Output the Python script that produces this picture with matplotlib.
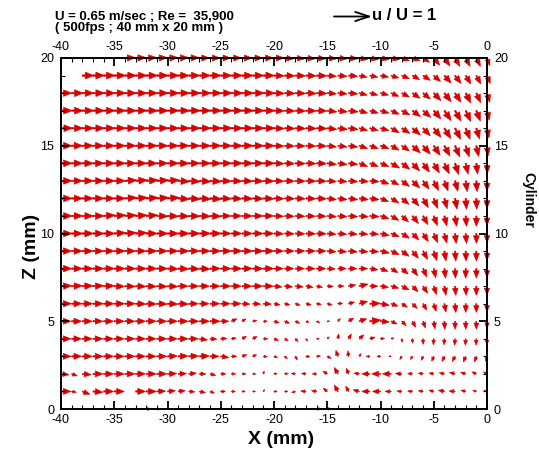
import matplotlib.pyplot as plt
import numpy as np

plt.rcParams['font.family'] = ['Liberation Sans', 'DejaVu Sans']
plt.rcParams['axes.unicode_minus'] = False

# -------------------------------
# PIV velocity field, u/U and w/U on a 1 mm grid
# columns x = -40 .. 0 mm, rows z = 0 .. 20 mm
# -------------------------------

x_mm = np.arange(-40, 1)
z_mm = np.arange(0, 21)

u_rows = [
    # z = 0
    [0, 0, 0, 0, 0, 0, 0, 0, .12, .10, 0, 0, 0, 0, 0, 0, 0, 0, 0, 0,
     0, 0, 0, 0, .12, .10, .08, .07, 0, 0, 0, 0, 0, 0, 0, 0, 0, 0, 0, 0, 0],
    # z = 1
    [.25, .12, .19, .25, .25, .25, 0, .25, .25, .22, .20, .18, .15, .15, .11, .12, .10, .08, .07, .03,
     .08, .08, -.09, -.13, -.13, -.10, -.09, -.07, -.15, -.20, -.20, -.15, -.12, -.12, -.12, -.12, -.15, -.15, -.12, -.09, -.08],
    # z = 2
    [.20, .14, .22, .25, .25, .25, .25, .25, .25, .25, .23, .21, .19, .16, .14, .13, .11, .10, .08, .02,
     .08, .09, -.10, -.11, -.11, -.11, -.09, -.06, -.13, -.20, -.22, -.22, -.16, -.12, -.12, -.12, -.13, -.14, -.13, -.11, -.09],
    # z = 3
    [.25, .25, .25, .25, .25, .25, .25, .25, .25, .25, .25, .25, .25, .25, .22, .20, .13, .12, .10, .10,
     .09, .07, .05, .10, .10, .10, -.05, -.02, .05, -.09, -.09, -.06, -.05, -.05, -.05, -.05, -.06, -.07, -.06, -.05, -.04],
    # z = 4
    [.25, .25, .25, .25, .25, .25, .25, .25, .25, .25, .25, .25, .24, .20, .17, .15, .12, .11, .11, .11,
     .11, .09, .07, .04, .07, .05, .02, .07, .12, .13, .10, .07, .01, 0, 0, -.01, -.01, -.01, -.01, -.01, 0],
    # z = 5
    [.25, .25, .25, .25, .25, .25, .25, .25, .25, .25, .25, .25, .25, .25, .25, .20, .14, .10, .10, .10,
     .13, .12, .11, .08, .08, .06, .06, .13, .19, .28, .22, .15, .11, .08, .06, .03, .01, 0, 0, 0, 0],
    # z = 6
    [.26, .26, .26, .26, .26, .26, .26, .26, .26, .26, .26, .26, .24, .24, .24, .24, .24, .20, .20, .20,
     .15, .13, .12, .13, .12, .12, .12, .15, .21, .26, .22, .17, .14, .12, .09, .06, .04, .02, 0, 0, 0],
    # z = 7
    [.27, .27, .27, .27, .27, .26, .26, .26, .26, .26, .26, .25, .25, .25, .25, .25, .25, .25, .25, .25,
     .20, .20, .20, .18, .15, .15, .15, .18, .22, .20, .20, .19, .18, .14, .11, .07, .04, .02, .01, 0, 0],
    # z = 8
    [.27, .27, .27, .27, .27, .27, .27, .27, .27, .27, .27, .27, .27, .27, .26, .26, .26, .26, .26, .26,
     .23, .23, .23, .23, .23, .20, .21, .21, .21, .20, .19, .17, .16, .13, .09, .05, .03, .01, 0, 0, 0],
    # z = 9
    [.27, .27, .27, .27, .27, .27, .27, .27, .27, .27, .27, .27, .27, .27, .27, .27, .27, .27, .27, .27,
     .24, .24, .24, .24, .24, .22, .22, .22, .22, .22, .22, .20, .18, .15, .11, .08, .04, .02, .01, 0, 0],
    # z = 10
    [.28, .28, .28, .28, .28, .29, .29, .29, .28, .28, .28, .28, .28, .28, .28, .26, .26, .26, .26, .26,
     .24, .24, .24, .24, .24, .22, .22, .22, .22, .22, .22, .20, .19, .16, .13, .10, .06, .03, .02, 0, 0],
    # z = 11
    [.28, .28, .28, .28, .29, .29, .29, .29, .29, .28, .28, .28, .28, .28, .28, .26, .26, .26, .26, .26,
     .24, .24, .24, .24, .24, .23, .23, .23, .23, .23, .21, .19, .17, .15, .12, .09, .06, .04, .02, 0, 0],
    # z = 12
    [.28, .28, .28, .28, .28, .28, .30, .30, .30, .30, .30, .29, .29, .29, .29, .27, .27, .27, .27, .27,
     .25, .25, .25, .25, .25, .23, .23, .23, .23, .23, .20, .19, .18, .16, .13, .10, .07, .05, .02, .01, 0],
    # z = 13
    [.28, .28, .28, .28, .28, .28, .30, .30, .30, .30, .30, .29, .29, .29, .29, .27, .27, .27, .27, .27,
     .25, .25, .25, .25, .25, .23, .23, .23, .23, .23, .21, .19, .19, .18, .15, .12, .09, .07, .04, .02, 0],
    # z = 14
    [.28, .28, .28, .28, .28, .28, .28, .28, .28, .28, .28, .28, .28, .28, .28, .28, .28, .28, .28, .28,
     .25, .25, .25, .25, .25, .23, .23, .23, .21, .21, .21, .21, .20, .18, .16, .14, .12, .09, .06, .03, .01],
    # z = 15
    [.28, .28, .28, .28, .28, .28, .28, .28, .28, .28, .28, .28, .28, .28, .28, .28, .28, .28, .28, .28,
     .25, .25, .25, .25, .25, .23, .23, .23, .21, .21, .21, .20, .19, .20, .18, .16, .14, .12, .09, .06, .03],
    # z = 16
    [.29, .29, .29, .29, .29, .29, .29, .29, .29, .29, .29, .29, .29, .29, .29, .29, .29, .29, .29, .29,
     .26, .26, .26, .26, .26, .24, .24, .24, .21, .21, .21, .20, .20, .20, .18, .18, .16, .14, .11, .08, .05],
    # z = 17
    [.28, .29, .29, .29, .29, .29, .29, .29, .29, .29, .29, .29, .29, .29, .29, .29, .29, .29, .29, .29,
     .26, .26, .26, .26, .26, .24, .24, .24, .21, .21, .21, .20, .20, .20, .19, .18, .17, .15, .13, .10, .06],
    # z = 18
    [.27, .29, .29, .29, .29, .29, .29, .29, .29, .29, .29, .29, .29, .29, .29, .29, .29, .29, .29, .29,
     .26, .26, .26, .26, .26, .23, .23, .23, .20, .20, .20, .19, .19, .19, .18, .18, .17, .15, .13, .11, .07],
    # z = 19
    [0, 0, .29, .29, .29, .29, .29, .29, .29, .29, .29, .28, .28, .28, .28, .28, .28, .28, .28, .28,
     .26, .26, .26, .26, .26, .23, .23, .23, .20, .20, .20, .19, .19, .18, .18, .17, .17, .15, .13, .11, .08],
    # z = 20
    [0, 0, 0, 0, 0, 0, .26, .26, .26, .26, .26, .26, .26, .25, .25, .25, .25, .25, .25, .25,
     .25, .23, .23, .23, .23, .23, .23, .23, .21, .21, .21, .21, .19, .19, .16, .15, .14, .12, .11, .10, .07],
]

w_rows = [
    # z = 0
    [0, 0, 0, 0, 0, 0, 0, 0, 0, 0, 0, 0, 0, 0, 0, 0, 0, 0, 0, 0,
     0, 0, 0, 0, .01, .01, .01, 0, 0, 0, 0, 0, 0, 0, 0, 0, 0, 0, 0, 0, 0],
    # z = 1
    [0, -.02, -.07, -.02, 0, 0, 0, 0, 0, .01, .02, .02, -.01, -.03, -.04, 0, 0, 0, 0, .05,
     0, 0, -.03, .01, .02, .08, .16, .13, .04, 0, 0, 0, .01, .01, .02, .03, .03, .01, .03, .03, .03],
    # z = 2
    [-.02, -.05, -.02, 0, 0, 0, 0, 0, 0, 0, .01, .01, .02, 0, -.04, 0, 0, 0, 0, .07,
     .01, .01, .01, .01, 0, .07, .16, .14, .02, 0, 0, 0, .01, .01, .02, .02, .03, .04, .04, .05, .05],
    # z = 3
    [0, 0, 0, 0, 0, 0, 0, 0, 0, 0, .01, .01, .01, .01, 0, -.03, 0, .04, .04, -.01,
     -.03, -.06, -.09, -.01, .01, -.05, .15, .14, .07, 0, 0, 0, -.08, -.08, -.10, -.12, -.13, -.13, -.14, -.14, -.12],
    # z = 4
    [0, 0, 0, 0, 0, 0, 0, 0, 0, 0, 0, 0, 0, -.03, -.01, .01, .02, .06, .06, 0,
     -.04, -.05, -.07, -.06, 0, .05, .12, .12, .10, .04, .01, .02, -.09, -.11, -.14, -.15, -.15, -.16, -.16, -.16, -.15],
    # z = 5
    [0, 0, 0, 0, 0, 0, 0, 0, 0, 0, 0, 0, 0, 0, 0, 0, .06, .06, .02, 0,
     -.04, -.05, -.05, -.03, -.04, 0, .07, .08, .06, .03, -.02, -.07, -.11, -.15, -.17, -.19, -.20, -.20, -.20, -.20, -.18],
    # z = 6
    [0, 0, 0, 0, 0, 0, 0, -.01, -.01, -.01, -.01, -.01, 0, 0, 0, 0, 0, -.01, -.01, -.01,
     -.03, -.03, -.04, -.03, -.02, -.03, .01, .04, .06, .01, -.04, -.06, -.09, -.12, -.16, -.19, -.21, -.22, -.22, -.22, -.20],
    # z = 7
    [.01, .01, .01, .01, .01, -.01, -.01, -.01, -.01, -.01, -.01, 0, 0, 0, 0, 0, 0, 0, 0, 0,
     -.02, -.02, -.02, -.03, -.03, -.01, 0, .03, .05, 0, -.03, -.05, -.09, -.14, -.18, -.21, -.23, -.23, -.23, -.23, -.22],
    # z = 8
    [0, 0, 0, 0, 0, 0, 0, 0, 0, 0, -.01, -.01, -.01, -.01, 0, 0, 0, 0, 0, 0,
     0, 0, 0, 0, 0, -.01, 0, 0, 0, -.03, -.07, -.10, -.14, -.18, -.21, -.23, -.24, -.24, -.24, -.24, -.22],
    # z = 9
    [0, 0, 0, 0, 0, 0, 0, 0, 0, 0, 0, 0, 0, 0, 0, 0, 0, 0, 0, 0,
     0, 0, 0, 0, 0, -.02, -.02, -.02, -.02, -.02, -.05, -.09, -.13, -.18, -.21, -.24, -.25, -.25, -.25, -.25, -.23],
    # z = 10
    [0, 0, 0, 0, 0, .02, .02, .02, 0, 0, 0, 0, 0, 0, 0, 0, 0, 0, 0, 0,
     -.01, -.01, -.01, -.01, -.01, -.02, -.02, -.02, -.02, -.02, -.05, -.08, -.12, -.16, -.20, -.23, -.24, -.25, -.25, -.25, -.23],
    # z = 11
    [0, 0, 0, 0, .02, .02, .02, .02, .02, -.01, -.01, -.01, -.01, -.01, -.01, 0, 0, 0, 0, 0,
     -.01, -.01, -.01, -.01, -.01, -.02, -.02, -.02, -.02, -.02, -.07, -.11, -.15, -.19, -.22, -.24, -.25, -.26, -.26, -.26, -.24],
    # z = 12
    [0, 0, 0, 0, 0, 0, .02, .02, .02, .02, .02, -.02, -.02, -.02, -.02, -.01, -.01, -.01, -.01, -.01,
     -.01, -.01, -.01, -.01, -.01, -.03, -.03, -.03, -.03, -.03, -.08, -.11, -.15, -.19, -.23, -.25, -.26, -.27, -.27, -.27, -.25],
    # z = 13
    [0, 0, 0, 0, 0, 0, .02, .02, .02, .02, .02, -.02, -.02, -.02, -.02, -.01, -.01, -.01, -.01, -.01,
     -.01, -.01, -.01, -.01, -.01, -.02, -.02, -.02, -.02, -.02, -.08, -.10, -.14, -.18, -.21, -.24, -.25, -.26, -.27, -.27, -.25],
    # z = 14
    [0, 0, 0, 0, 0, 0, 0, 0, 0, 0, 0, 0, 0, 0, 0, 0, 0, 0, 0, 0,
     -.01, -.01, -.01, -.01, -.01, -.03, -.03, -.03, -.08, -.08, -.08, -.12, -.15, -.19, -.22, -.24, -.26, -.28, -.27, -.27, -.25],
    # z = 15
    [0, 0, 0, 0, 0, 0, 0, 0, 0, 0, 0, 0, 0, 0, 0, 0, 0, 0, 0, 0,
     -.01, -.01, -.01, -.01, -.01, -.03, -.03, -.03, -.07, -.07, -.07, -.11, -.13, -.18, -.21, -.24, -.26, -.28, -.28, -.27, -.25],
    # z = 16
    [0, 0, 0, 0, 0, 0, 0, 0, 0, 0, 0, 0, 0, 0, 0, 0, 0, 0, 0, 0,
     -.01, -.01, -.01, -.01, -.01, -.03, -.03, -.03, -.06, -.06, -.06, -.11, -.13, -.17, -.19, -.23, -.26, -.28, -.28, -.27, -.24],
    # z = 17
    [0, 0, 0, 0, 0, 0, 0, 0, 0, 0, 0, 0, 0, 0, 0, 0, 0, 0, 0, 0,
     -.01, -.01, -.01, -.01, -.01, -.03, -.03, -.03, -.06, -.06, -.06, -.09, -.11, -.15, -.17, -.21, -.25, -.26, -.27, -.26, -.24],
    # z = 18
    [0, 0, 0, 0, 0, 0, 0, 0, 0, 0, 0, 0, 0, 0, 0, 0, 0, 0, 0, 0,
     -.01, -.01, -.01, -.01, -.01, -.02, -.02, -.02, -.05, -.05, -.05, -.08, -.10, -.13, -.15, -.19, -.22, -.23, -.25, -.24, -.23],
    # z = 19
    [0, 0, 0, 0, 0, 0, 0, 0, 0, 0, 0, 0, 0, 0, 0, 0, 0, 0, 0, 0,
     -.01, -.01, -.01, -.01, -.01, -.02, -.02, -.02, -.04, -.04, -.04, -.06, -.08, -.10, -.12, -.15, -.19, -.20, -.21, -.21, -.20],
    # z = 20
    [0, 0, 0, 0, 0, 0, .01, .01, .01, .01, .01, .01, .01, 0, 0, 0, 0, 0, 0, 0,
     0, -.02, -.02, -.02, -.02, -.02, -.02, -.02, -.04, -.04, -.04, -.04, -.07, -.07, -.11, -.18, -.20, -.21, -.21, -.21, -.19],
]

U = np.array(u_rows)
W = np.array(w_rows)
X, Z = np.meshgrid(x_mm, z_mm)
has_vec = (U != 0) | (W != 0)

fig = plt.figure(figsize=(5.39, 4.54), dpi=100)
ax = fig.add_axes([61 / 539, 45 / 454, 426 / 539, 351 / 454])

# 1 u/U = 40 px on screen, tecplot-like filled heads
ax.quiver(X[has_vec], Z[has_vec], U[has_vec], W[has_vec],
          color='#d80000', edgecolor='#d80000', linewidth=0.4,
          angles='uv', scale_units='dots', scale=1 / 40,
          units='dots', width=1.5, headwidth=4.6, headlength=5.8,
          headaxislength=5.8, minshaft=1.3, minlength=0, pivot='tail',
          clip_on=False, zorder=1)

ax.set_xlim(-40, 0)
ax.set_ylim(0, 20)
ax.set_xticks(np.arange(-40, 1, 5))
ax.set_yticks(np.arange(0, 21, 5))
ax.set_xticks(np.arange(-40, 1, 1), minor=True)
ax.set_yticks(np.arange(0, 21, 1), minor=True)
ax.tick_params(which='both', direction='in', top=True, right=True,
               labeltop=True, labelright=True, labelsize=9, colors='black')
ax.tick_params(which='major', length=5.5, width=1.3)
ax.tick_params(which='minor', length=3.2, width=0.8)
ax.tick_params(axis='x', which='major', pad=3.5)
ax.tick_params(axis='y', which='major', pad=5)
for sp in ax.spines.values():
    sp.set_linewidth(1.4)

fig.text(281 / 539, 1 - 440 / 454, 'X (mm)', fontsize=14, fontweight='bold',
         ha='center', va='center')
fig.text(31 / 539, 1 - 246 / 454, 'Z (mm)', fontsize=14, fontweight='bold',
         ha='center', va='center', rotation=90)
fig.text(528 / 539, 1 - 200 / 454, 'Cylinder', fontsize=10, fontweight='bold',
         ha='center', va='center', rotation=-90)

fig.text(55 / 539, 1 - 11 / 454,
         'U = 0.65 m/sec ; Re =  35,900\n( 500fps ; 40 mm x 20 mm )',
         fontsize=9.5, fontweight='bold', ha='left', va='top', linespacing=0.85)

# reference vector u / U = 1
ax.annotate('', xy=(372 / 539, 1 - 16.5 / 454), xytext=(334 / 539, 1 - 16.5 / 454),
            xycoords='figure fraction', textcoords='figure fraction',
            arrowprops=dict(arrowstyle='->, head_length=1.0, head_width=0.33',
                            lw=1.3, color='black', shrinkA=0, shrinkB=0))
fig.text(372 / 539, 1 - 16 / 454, 'u / U = 1', fontsize=12, fontweight='bold',
         ha='left', va='center')

plt.savefig('out.png', dpi=100)
